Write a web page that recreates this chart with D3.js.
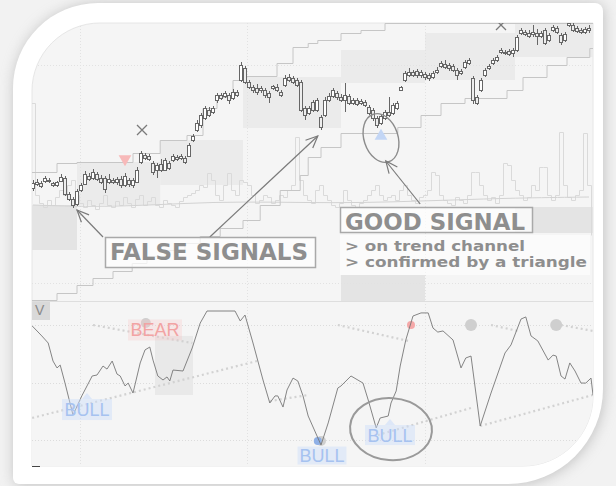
<!DOCTYPE html>
<html>
<head>
<meta charset="utf-8">
<script src="https://cdn.jsdelivr.net/npm/d3@7/dist/d3.min.js"></script>
<style>
body { margin: 0; padding: 0; background: #f2f2f2; }
svg { display: block; }
</style>
</head>
<body>
<script>
//chart frame dimensions
var width = 616,
    height = 486;

//candles, one per session
var opens = [112,116,117,119,120,117,115,119,122,106, 101,96,110,116,124,122,126,122,122,118,
    120,118,121,115,120,115,118,138,145,144, 137,130,136,130,137,140,143,142,142,144,
    160,170,175,182,190,188,200,205,204,205, 202,208,220,232,218,213,212,210,210,207,
    212,213,208,215,223,222,220,218,192,187, 198,190,183,185,200,204,207,203,200,204,
    197,200,197,198,193,190,182,177,182,188, 187,192,210,220,225,228,229,225,226,225,
    223,228,234,236,235,234,230,227,233,237, 222,203,210,225,232,237,240,248,248,249,
    247,250,267,268,267,266,267,264,270,260, 270,272,265,260,275,275,272,270,268,270];
var closes = [117,118,114,122,119,115,118,123,106,101, 95,109,115,126,121,128,121,118,111,121,
    118,121,115,124,116,120,130,147,142,141, 128,135,130,140,132,144,141,144,138,155,
    164,177,185,192,185,192,205,202,207,200, 208,205,235,218,213,210,208,212,205,203,
    214,210,205,222,220,218,215,190,185,192, 190,200,173,200,204,210,203,200,205,197,
    200,196,199,195,187,182,175,184,188,185, 195,197,213,227,228,225,225,228,223,222,
    227,230,237,233,232,230,225,229,238,240, 200,197,220,230,234,240,243,250,247,246,
    250,263,270,266,264,268,264,267,257,265, 273,268,258,266,277,270,269,268,271,272];
var highs = [120,121,119,124,122,118,119,126,124,108, 103,111,117,129,127,131,128,125,124,126,
    122,123,124,127,122,122,133,149,147,146, 139,137,141,142,139,146,145,146,144,157,
    166,180,187,194,193,194,207,207,209,207, 211,210,238,234,220,215,216,214,212,209,
    215,216,210,225,226,224,222,220,194,194, 200,202,185,203,207,212,209,206,217,206,
    202,202,201,200,195,192,184,186,190,203, 197,199,214,229,232,230,231,230,228,227,
    229,233,239,240,237,236,232,231,240,242, 224,205,222,232,236,242,245,252,250,251,
    252,265,272,270,270,275,271,269,272,267, 275,274,267,268,279,277,274,272,273,275];
var lows = [109,114,112,117,117,113,113,118,104,99, 92,94,108,115,119,120,119,116,107,116,
    116,115,112,113,113,112,117,136,140,139, 125,122,128,129,130,138,139,140,136,143,
    158,168,172,180,183,186,197,200,202,196, 200,203,218,216,211,207,205,207,202,197,
    210,208,203,213,218,216,213,188,180,185, 188,188,170,183,198,202,200,198,188,195,
    195,194,195,193,185,179,172,175,180,183, 185,190,209,218,223,223,222,222,220,219,
    221,226,232,231,229,228,220,225,231,235, 196,195,208,223,230,235,238,246,245,244,
    243,248,265,264,262,263,255,262,255,258, 268,266,255,258,273,268,267,266,266,267];
var volumes = [132,40,32,28,35,30,38,45,40,50, 55,40,32,28,35,30,26,32,40,30,
    28,34,30,38,32,28,36,40,30,34, 38,30,28,35,32,30,28,34,38,40,
    42,45,50,48,62,55,40,35,50,62, 45,40,55,53,50,40,32,35,40,38,
    32,35,40,38,45,50,98,55,40,35, 32,45,50,40,35,30,28,32,45,35,
    30,28,32,35,40,45,50,40,35,38, 40,35,45,50,40,35,32,38,40,45,
    63,60,40,35,32,30,38,35,32,40, 63,63,50,40,35,38,32,40,72,70,
    55,45,40,35,38,50,45,68,68,40, 35,40,103,50,38,35,40,45,102,50];

//volume average, sampled
var maTimes = [0,15,30,45,60,75,90,105,120,139];
var maValues = [30,28,30,33,33,32,33,35,37,38];

//trend channel steps (start session, level)
var upperStepT = [-0.5,6,11,25,31.8,38.5,42.5,46,50,52.5,61,65,68.8,71.2,77,82,88,140];
var upperStepP = [128,137,138,147,160,165,192,203,220,224,237,253,257,260,267,270,277,277];
var lowerStepT = [-0.5,6,11,15,20,24.8,28.5,33,38,41.8,46.8,52.5,56.8,61.8,66.8,68.8,72,77,91.2,97,102,108,118.5,122.5,128.5,133.5,139.2,140];
var lowerStepP = [0,7,15,22,29,37,44,50,57,64,72,80,95,110,125,143,153,167,173,185,197,202,210,223,235,243,252,252];

//trend boxes: from, to, top, bottom
var boxes = [[11,31.8,138,95],[31.8,52.5,160,115],[52.5,77,223,172],[77,98,250,217],[98,120.5,267,220],[120.5,140.5,277,243]];
var darkBoxes = [[-0.5,11,95,50],[120.5,140.5,93,67],[77,98,25,-1]];

//oscillator
var oscT = [-0.2,2.2,3.8,5,6,6.8,8,10,12.2,13.5,14.8,16,17.5,18.5,19.8,21,21.8,23,23.8,25,
    26.8,28,29.2,30,31.2,32.5,33.5,34.2,35,37.5,39.8,41.8,43.5,50.5,51.8,53,55,57.5,59.2,60.5,
    61.2,62.5,63.5,65,66.2,67.5,68.8,72,73.8,76.2,77,79.5,82.5,83.8,85.8,86.8,88.8,89.5,90.8,91.8,
    93.2,95,97,98.8,100,101.2,102.5,105,107,108.2,109.5,111.8,114.5,118,119.5,122,123.2,124.5,126.2,128.8,
    130,130.8,132,133,134.2,135.5,137,138.2,139.5,140];
var oscV = [79.5,74.3,70.6,61.2,57.6,59.1,49.7,33,43,48.2,53.4,53.9,58.6,57,61.2,54.4,53.4,48.2,49.7,44.5,
    60.2,67,68.5,61.7,53.4,51.3,52.9,50.8,56.5,56,68,81,87.3,87.3,82.1,85.2,70.6,51.3,39.3,43,
    43,37.2,46.1,52.3,50.8,43,32.5,17.4,28.9,47.1,48.2,53.4,49.7,40.9,26.3,31.5,32.5,39.3,45.6,58.6,
    72.2,84.7,86.3,86.3,78.4,76.3,76.9,72.2,57.6,62.8,63.8,27.3,44.5,65.4,69.6,83.1,84.2,74.3,71.7,61.7,
    64.3,63.8,53.4,51.8,60.2,56,49.7,49.7,52.3,43.5];
var oscLevels = [80, 50, 20];
//dotted trend lines on the oscillator: t1, v1, t2, v2
var oscTrends = [[-0.2,31.5,56,61.2],[15,80,39.8,70.6],[59.2,40.3,68.8,43.5],[76.2,80,93.8,71.7],
    [86.2,22.6,109.5,36.7],[111.8,27.3,140,43.5],[114.5,80,121.2,76.9],[132,80,140,76.9]];

//signals
var crosses = [[27.25,170],[117,275]];
var bearTriangles = [[23,141]];
var bullTriangles = [[87,164]];
var greyDots = [[28.2,81,5],[109.5,80,6],[130.8,80,6],[72,19.5,5]];
var redDots = [[94.5,80]];
var blueDots = [[71.2,19.5]];
var bearLabels = [{t:30.5, v:77.4, w:54, h:21}];
var bullLabels = [{t:13.5, v:35.9, w:50, h:21, tip:true},{t:72.25, v:11.9, w:49, h:18, tip:false},{t:89.25, v:22.6, w:50, h:20, tip:true}];
var grid = [11.75, 53.5, 98];

//scales
var x = d3.scaleLinear().domain([0, 139]).range([33, 589]);
var y = d3.scaleLinear().domain([0, 277]).range([300, 23]);
var yVol = d3.scaleLinear().domain([0, 130]).range([235, 105]);
var yOsc = d3.scaleLinear().domain([20, 80]).range([440, 325]);

//rounded shape with one radius per corner
function roundBox(x0, y0, x1, y1, a, b, c, e){
    return "M" + (x0 + a) + "," + y0 + " H" + (x1 - b) + " A" + b + "," + b + " 0 0 1 " + x1 + "," + (y0 + b) +
        " V" + (y1 - c) + " A" + c + "," + c + " 0 0 1 " + (x1 - c) + "," + y1 +
        " H" + (x0 + e) + " A" + e + "," + e + " 0 0 1 " + x0 + "," + (y1 - e) +
        " V" + (y0 + a) + " A" + a + "," + a + " 0 0 1 " + (x0 + a) + "," + y0 + " Z";
}

var svg = d3.select("body")
    .append("svg")
    .attr("width", width)
    .attr("height", height);

var defs = svg.append("defs");
defs.append("filter").attr("id", "blur")
    .attr("x", "-10%").attr("y", "-10%").attr("width", "120%").attr("height", "120%")
    .append("feGaussianBlur").attr("stdDeviation", 7);
defs.append("clipPath").attr("id", "panelClip")
    .append("path")
    .attr("d", roundBox(32, 23, 593, 466, 68, 0, 70, 0));

//card shadow and card
svg.append("path")
    .attr("d", roundBox(13, 3, 603, 484, 85, 8, 95, 6))
    .attr("transform", "translate(1,1)")
    .style("fill", "#909090")
    .style("opacity", 0.5)
    .attr("filter", "url(#blur)");
svg.append("path")
    .attr("d", roundBox(13, 3, 603, 484, 85, 8, 95, 6))
    .style("fill", "#ffffff");

//chart panel
svg.append("path")
    .attr("d", roundBox(32, 23, 593, 466, 68, 0, 70, 0))
    .style("fill", "#f5f5f5")
    .style("stroke", "#e6e6e6");

var chart = svg.append("g").attr("clip-path", "url(#panelClip)");

//trend boxes
chart.selectAll(".box")
    .data(boxes)
    .enter()
    .append("rect")
    .attr("class", "box")
    .attr("x", function(d){ return x(d[0]); })
    .attr("y", function(d){ return y(d[2]); })
    .attr("width", function(d){ return x(d[1]) - x(d[0]); })
    .attr("height", function(d){ return y(d[3]) - y(d[2]); })
    .style("fill", "#ebebeb");
chart.selectAll(".darkBox")
    .data(darkBoxes)
    .enter()
    .append("rect")
    .attr("class", "darkBox")
    .attr("x", function(d){ return x(d[0]); })
    .attr("y", function(d){ return y(d[2]); })
    .attr("width", function(d){ return x(d[1]) - x(d[0]); })
    .attr("height", function(d){ return y(d[3]) - y(d[2]); })
    .style("fill", "#e4e4e4");

//grid lines
chart.selectAll(".vgrid")
    .data(grid)
    .enter()
    .append("line")
    .attr("x1", function(d){ return Math.round(x(d)) + 0.5; })
    .attr("x2", function(d){ return Math.round(x(d)) + 0.5; })
    .attr("y1", 23)
    .attr("y2", 466)
    .style("stroke", "#e2e2e2")
    .style("stroke-dasharray", "1,2");
chart.selectAll(".pgrid")
    .data([235, 17])
    .enter()
    .append("line")
    .attr("x1", 32).attr("x2", 593)
    .attr("y1", function(d){ return Math.round(y(d)) + 0.5; })
    .attr("y2", function(d){ return Math.round(y(d)) + 0.5; })
    .style("stroke", "#e2e2e2")
    .style("stroke-dasharray", "1,2");

//volume outline
var volPoints = volumes.map(function(v, i){ return [x(i) - 2, yVol(v)]; });
volPoints.push([x(volumes.length - 1) + 2, yVol(volumes[volumes.length - 1])]);
volPoints.unshift([x(0) - 2, yVol(0)]);
volPoints.push([x(volumes.length - 1) + 2, yVol(0)]);
chart.append("path")
    .datum(volPoints)
    .attr("d", d3.line()
        .x(function(d){ return Math.round(d[0]) + 0.5; })
        .y(function(d){ return Math.round(d[1]) + 0.5; })
        .curve(d3.curveStepAfter))
    .style("fill", "none")
    .style("stroke", "#dadada");

//volume average
chart.append("path")
    .datum(maTimes.map(function(t, i){ return [t, maValues[i]]; }))
    .attr("d", d3.line().x(function(d){ return x(d[0]); }).y(function(d){ return yVol(d[1]); }).curve(d3.curveBasis))
    .style("fill", "none")
    .style("stroke", "#d2d2d2");

//channel steps
var stepLine = d3.line()
    .x(function(d){ return x(d[0]); })
    .y(function(d){ return Math.round(y(d[1])) + 0.5; })
    .curve(d3.curveStepAfter);
chart.append("path")
    .datum(upperStepT.map(function(t, i){ return [t, upperStepP[i]]; }))
    .attr("d", stepLine)
    .style("fill", "none")
    .style("stroke", "#c6c6c6");
chart.append("path")
    .datum(lowerStepT.map(function(t, i){ return [t, lowerStepP[i]]; }))
    .attr("d", stepLine)
    .style("fill", "none")
    .style("stroke", "#c6c6c6");

//candles
var candles = chart.selectAll(".candle")
    .data(closes)
    .enter()
    .append("g")
    .attr("class", "candle");
candles.append("line")
    .attr("x1", function(d, i){ return x(i) + 0.5; })
    .attr("x2", function(d, i){ return x(i) + 0.5; })
    .attr("y1", function(d, i){ return y(highs[i]); })
    .attr("y2", function(d, i){ return y(lows[i]); })
    .style("stroke", "#666666");
candles.append("rect")
    .attr("x", function(d, i){ return x(i) - 1.5; })
    .attr("y", function(d, i){ return Math.round(y(Math.max(opens[i], d))) + 0.5; })
    .attr("width", 3)
    .attr("height", function(d, i){ return Math.max(1, Math.round(y(Math.min(opens[i], d)) - y(Math.max(opens[i], d)))); })
    .style("fill", function(d, i){ return d >= opens[i] ? "#ffffff" : "#eeeeee"; })
    .style("stroke", "#666666");

//signal marks on price
chart.selectAll(".cross")
    .data(crosses)
    .enter()
    .append("path")
    .attr("d", function(d){
        var cx = x(d[0]), cy = y(d[1]);
        return "M" + (cx - 5) + "," + (cy - 5) + "L" + (cx + 5) + "," + (cy + 5) + "M" + (cx + 5) + "," + (cy - 5) + "L" + (cx - 5) + "," + (cy + 5);
    })
    .style("stroke", "#7a7a7a")
    .style("stroke-width", 1.3);
chart.selectAll(".bearTri")
    .data(bearTriangles)
    .enter()
    .append("path")
    .attr("d", d3.symbol().type(d3.symbolTriangle).size(70))
    .attr("transform", function(d){ return "translate(" + x(d[0]) + "," + y(d[1]) + ") rotate(180)"; })
    .style("fill", "#f7b9b9");
chart.selectAll(".bullTri")
    .data(bullTriangles)
    .enter()
    .append("path")
    .attr("d", d3.symbol().type(d3.symbolTriangle).size(70))
    .attr("transform", function(d){ return "translate(" + x(d[0]) + "," + y(d[1]) + ")"; })
    .style("fill", "#c3d6f5");

//oscillator pane
chart.append("rect")
    .attr("x", 32).attr("y", 301).attr("width", 561).attr("height", 165)
    .style("fill", "#f5f5f5");
chart.selectAll(".ogrid")
    .data(oscLevels)
    .enter()
    .append("line")
    .attr("x1", 32).attr("x2", 593)
    .attr("y1", function(d){ return Math.round(yOsc(d)) + 0.5; })
    .attr("y2", function(d){ return Math.round(yOsc(d)) + 0.5; })
    .style("stroke", "#dcdcdc")
    .style("stroke-dasharray", "1,2");
chart.selectAll(".vgrid2")
    .data(grid)
    .enter()
    .append("line")
    .attr("x1", function(d){ return Math.round(x(d)) + 0.5; })
    .attr("x2", function(d){ return Math.round(x(d)) + 0.5; })
    .attr("y1", 301)
    .attr("y2", 466)
    .style("stroke", "#e2e2e2")
    .style("stroke-dasharray", "1,2");
chart.append("line")
    .attr("x1", 32).attr("x2", 593).attr("y1", 301.5).attr("y2", 301.5)
    .style("stroke", "#dedede");

//shaded zone on oscillator
chart.append("rect")
    .attr("x", x(30.5)).attr("y", yOsc(74.3))
    .attr("width", x(40) - x(30.5)).attr("height", yOsc(43.5) - yOsc(74.3))
    .style("fill", "#e9e9e9");

//oscillator trend lines
chart.selectAll(".trend")
    .data(oscTrends)
    .enter()
    .append("line")
    .attr("x1", function(d){ return x(d[0]); })
    .attr("y1", function(d){ return yOsc(d[1]); })
    .attr("x2", function(d){ return x(d[2]); })
    .attr("y2", function(d){ return yOsc(d[3]); })
    .style("stroke", "#d2d2d2")
    .style("stroke-width", 2.2)
    .style("stroke-dasharray", "2,3");

//dots
chart.selectAll(".greyDot")
    .data(greyDots)
    .enter()
    .append("circle")
    .attr("cx", function(d){ return x(d[0]); })
    .attr("cy", function(d){ return yOsc(d[1]); })
    .attr("r", function(d){ return d[2]; })
    .style("fill", "#cfcfcf");
chart.selectAll(".redDot")
    .data(redDots)
    .enter()
    .append("circle")
    .attr("cx", function(d){ return x(d[0]); })
    .attr("cy", function(d){ return yOsc(d[1]); })
    .attr("r", 4)
    .style("fill", "#f5a9a9");
chart.selectAll(".blueDot")
    .data(blueDots)
    .enter()
    .append("circle")
    .attr("cx", function(d){ return x(d[0]); })
    .attr("cy", function(d){ return yOsc(d[1]); })
    .attr("r", 4)
    .style("fill", "#8fb0e6");

//oscillator line
chart.append("path")
    .datum(oscT.map(function(t, i){ return [t, oscV[i]]; }))
    .attr("d", d3.line().x(function(d){ return x(d[0]); }).y(function(d){ return yOsc(d[1]); }))
    .style("fill", "none")
    .style("stroke", "#777777")
    .style("stroke-width", 0.9);

//bear / bull labels
var bear = chart.selectAll(".bear")
    .data(bearLabels)
    .enter()
    .append("g")
    .attr("transform", function(d){ return "translate(" + x(d.t) + "," + yOsc(d.v) + ")"; });
bear.append("rect")
    .attr("x", function(d){ return -d.w / 2; })
    .attr("y", function(d){ return -d.h / 2; })
    .attr("width", function(d){ return d.w; })
    .attr("height", function(d){ return d.h; })
    .style("fill", "rgba(250,200,200,0.3)");
bear.append("text")
    .attr("text-anchor", "middle")
    .attr("y", 6.5)
    .style("font-family", "'Liberation Sans', Arial, sans-serif")
    .style("font-size", "18px")
    .style("fill", "#f2a3a3")
    .text("BEAR");

var bull = chart.selectAll(".bull")
    .data(bullLabels)
    .enter()
    .append("g")
    .attr("transform", function(d){ return "translate(" + x(d.t) + "," + yOsc(d.v) + ")"; });
bull.filter(function(d){ return d.tip; })
    .append("path")
    .attr("d", function(d){ return "M-5," + (-d.h / 2) + " L0," + (-d.h / 2 - 6) + " L5," + (-d.h / 2) + " Z"; })
    .style("fill", "rgba(205,222,250,0.6)");
bull.append("rect")
    .attr("x", function(d){ return -d.w / 2; })
    .attr("y", function(d){ return -d.h / 2; })
    .attr("width", function(d){ return d.w; })
    .attr("height", function(d){ return d.h; })
    .style("fill", "rgba(205,222,250,0.45)");
bull.append("text")
    .attr("text-anchor", "middle")
    .attr("y", 6.5)
    .style("font-family", "'Liberation Sans', Arial, sans-serif")
    .style("font-size", "18px")
    .style("fill", "#a6c2f0")
    .text("BULL");

//V tag
chart.append("rect")
    .attr("x", 32).attr("y", 302).attr("width", 18).attr("height", 18)
    .style("fill", "#d9d9d9");
chart.append("text")
    .attr("x", 35).attr("y", 315)
    .style("font-family", "'Liberation Sans', Arial, sans-serif")
    .style("font-size", "14px")
    .style("fill", "#8a8a8a")
    .text("V");
svg.append("line")
    .attr("x1", 32).attr("x2", 40).attr("y1", 466.5).attr("y2", 466.5)
    .style("stroke", "#444");

//hand drawn circles
svg.append("ellipse")
    .attr("cx", x(87)).attr("cy", y(162))
    .attr("rx", 17).attr("ry", 25)
    .attr("transform", "rotate(-18," + x(87) + "," + y(162) + ")")
    .style("fill", "none")
    .style("stroke", "#8c8c8c")
    .style("stroke-width", 1.4);
svg.append("ellipse")
    .attr("cx", x(89.5)).attr("cy", yOsc(25.7))
    .attr("rx", 41).attr("ry", 31)
    .attr("transform", "rotate(4," + x(89.5) + "," + yOsc(25.7) + ")")
    .style("fill", "none")
    .style("stroke", "#9a9a9a")
    .style("stroke-width", 2);

//annotation arrows: from (t,p) to (t,p)
var arrows = [[17.5, 63, 11, 90], [44.2, 63, 71.2, 164], [96.8, 96, 88.2, 139]];
var arrowG = svg.selectAll(".arrow")
    .data(arrows)
    .enter()
    .append("g");
arrowG.append("line")
    .attr("x1", function(d){ return x(d[0]); })
    .attr("y1", function(d){ return y(d[1]); })
    .attr("x2", function(d){ return x(d[2]); })
    .attr("y2", function(d){ return y(d[3]); })
    .style("stroke", "#7a7a7a")
    .style("stroke-width", 1.2);
arrowG.append("path")
    .attr("d", function(d){
        var x2 = x(d[2]), y2 = y(d[3]);
        var ang = Math.atan2(y(d[1]) - y2, x(d[0]) - x2);
        var len = 13, spread = 0.42;
        return "M" + (x2 + len * Math.cos(ang - spread)) + "," + (y2 + len * Math.sin(ang - spread)) +
            " L" + x2 + "," + y2 +
            " L" + (x2 + len * Math.cos(ang + spread)) + "," + (y2 + len * Math.sin(ang + spread));
    })
    .style("fill", "none")
    .style("stroke", "#7a7a7a")
    .style("stroke-width", 1.2);

//annotation boxes
var falseX = x(18), falseY = y(63);
svg.append("rect")
    .attr("x", falseX + 0.5).attr("y", falseY + 0.5)
    .attr("width", 210).attr("height", 30)
    .style("fill", "rgba(255,255,255,0.72)")
    .style("stroke", "#a9a9a9")
    .style("stroke-width", 1.5);
svg.append("text")
    .attr("x", falseX + 5).attr("y", falseY + 23)
    .attr("textLength", 198)
    .attr("lengthAdjust", "spacingAndGlyphs")
    .style("font-family", "'DejaVu Sans', Verdana, sans-serif")
    .style("font-weight", "bold")
    .style("font-size", "23px")
    .style("fill", "#8e8e8e")
    .text("FALSE SIGNALS");

var goodX = x(76.75), goodY = y(93);
svg.append("rect")
    .attr("x", goodX).attr("y", goodY + 28)
    .attr("width", 250).attr("height", 40)
    .style("fill", "rgba(255,255,255,0.6)");
svg.append("rect")
    .attr("x", goodX + 0.5).attr("y", goodY + 0.5)
    .attr("width", 192).attr("height", 25)
    .style("fill", "rgba(255,255,255,0.72)")
    .style("stroke", "#a9a9a9")
    .style("stroke-width", 1.5);
svg.append("text")
    .attr("x", goodX + 5).attr("y", goodY + 23)
    .attr("textLength", 180)
    .attr("lengthAdjust", "spacingAndGlyphs")
    .style("font-family", "'DejaVu Sans', Verdana, sans-serif")
    .style("font-weight", "bold")
    .style("font-size", "23px")
    .style("fill", "#8e8e8e")
    .text("GOOD SIGNAL");
svg.append("text")
    .attr("x", goodX + 5).attr("y", goodY + 44)
    .attr("textLength", 180)
    .attr("lengthAdjust", "spacingAndGlyphs")
    .style("font-family", "'DejaVu Sans', Verdana, sans-serif")
    .style("font-weight", "bold")
    .style("font-size", "14.5px")
    .style("fill", "#8e8e8e")
    .text("> on trend channel");
svg.append("text")
    .attr("x", goodX + 5).attr("y", goodY + 60)
    .attr("textLength", 242)
    .attr("lengthAdjust", "spacingAndGlyphs")
    .style("font-family", "'DejaVu Sans', Verdana, sans-serif")
    .style("font-weight", "bold")
    .style("font-size", "14.5px")
    .style("fill", "#8e8e8e")
    .text("> confirmed by a triangle");
</script>
</body>
</html>
